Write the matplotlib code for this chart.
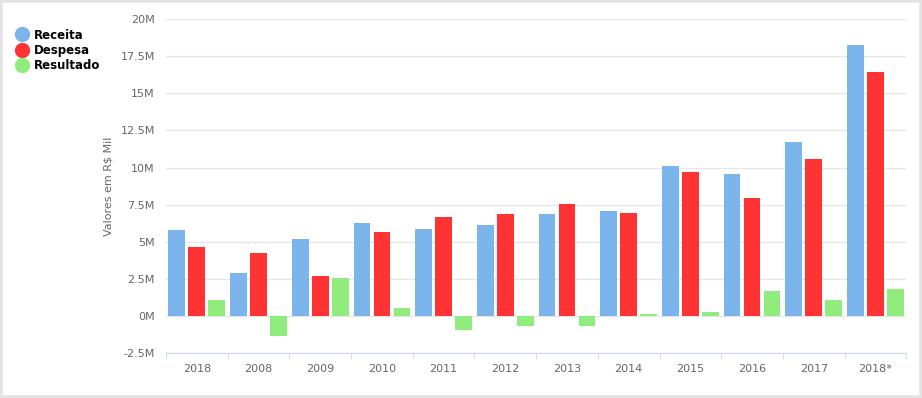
import matplotlib.pyplot as plt
from matplotlib.lines import Line2D
from matplotlib.patches import Rectangle
import numpy as np

categorias = ["2018", "2008", "2009", "2010", "2011", "2012", "2013",
              "2014", "2015", "2016", "2017", "2018*"]
receita = [5.79, 2.92, 5.21, 6.28, 5.84, 6.15, 6.87, 7.05, 10.1, 9.56, 11.7, 18.27]
despesa = [4.65, 4.27, 2.67, 5.63, 6.65, 6.87, 7.56, 6.92, 9.7, 7.93, 10.6, 16.41]
resultado = [1.06, -1.35, 2.54, 0.56, -0.92, -0.69, -0.69, 0.11, 0.29, 1.66, 1.08, 1.8]
series = ["Receita", "Despesa", "Resultado"]
cores = ["#7cb5ec", "#ff3333", "#90ed7d"]
yticks = [-2.5, 0, 2.5, 5, 7.5, 10, 12.5, 15, 17.5, 20]
ytick_labels = ["-2.5M", "0M", "2.5M", "5M", "7.5M", "10M", "12.5M", "15M", "17.5M", "20M"]

fig = plt.figure(figsize=(9.22, 3.98), dpi=100)
ax = fig.add_axes([0.18, 0.113, 0.803, 0.839])

x = np.arange(len(categorias))
largura = 0.27
passo = 0.324
for k, (vals, cor) in enumerate(zip([receita, despesa, resultado], cores)):
    ax.bar(x + (k - 1) * passo, vals, width=largura, color=cor, zorder=3)

ax.set_xlim(-0.5, len(categorias) - 0.5)
ax.set_ylim(-2.5, 20)
ax.set_yticks(yticks)
ax.set_yticklabels(ytick_labels)
ax.set_xticks(x)
ax.set_xticklabels(categorias)
ax.set_xticks(np.arange(len(categorias) + 1) - 0.5, minor=True)

ax.grid(axis="y", color="#e6e6e6", linewidth=1, zorder=0)
for lado in ["top", "right", "left"]:
    ax.spines[lado].set_visible(False)
ax.spines["bottom"].set_color("#ccd6eb")
ax.spines["bottom"].set_position(("data", -2.5))

ax.tick_params(axis="y", length=0, pad=8, labelsize=8, labelcolor="#666666")
ax.tick_params(axis="x", which="major", length=0, pad=8, labelsize=8, labelcolor="#666666")
ax.tick_params(axis="x", which="minor", length=4, color="#ccd6eb")

ax.set_ylabel("Valores em R$ Mil", fontsize=8, color="#666666", labelpad=5)

handles = [Line2D([], [], marker="o", linestyle="none", markersize=10,
                  markerfacecolor=c, markeredgecolor=c) for c in cores]
fig.legend(handles, series, loc="upper left", bbox_to_anchor=(0.0, 0.955),
           frameon=False, handletextpad=0.0, labelspacing=0.2,
           prop={"weight": "bold", "size": 8.5})

fig.patches.append(Rectangle((0, 0), 1, 1, transform=fig.transFigure,
                             fill=False, edgecolor="#e3e3e3", linewidth=4))

fig.savefig("out.png", dpi=100)
